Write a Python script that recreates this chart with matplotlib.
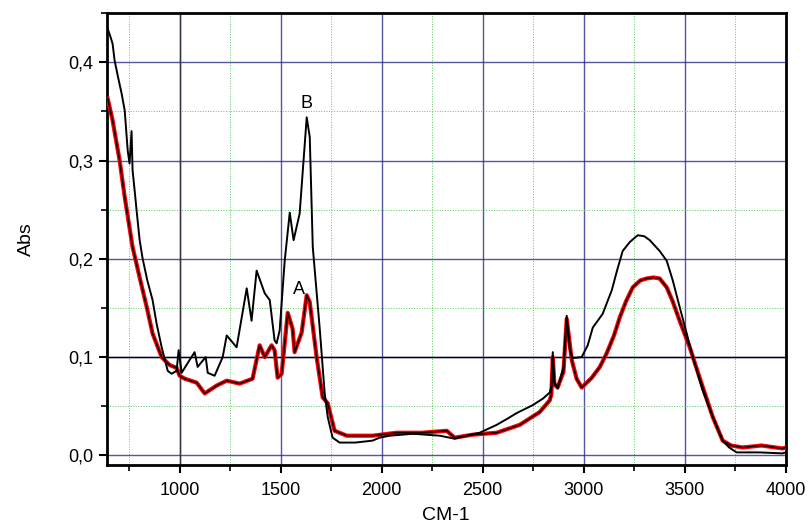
import matplotlib
matplotlib.use("Agg")
import matplotlib.pyplot as plt
from matplotlib.ticker import MultipleLocator, FuncFormatter

plt.rcParams['font.family'] = ['Liberation Sans', 'DejaVu Sans']

# spectrum B (black, upper curve)
wn_b = [644, 656, 668, 678, 695, 713, 728, 743, 752, 762, 767, 777, 787, 802, 817,
        840, 866, 886, 911, 941, 960, 985, 995, 1010, 1040, 1074, 1089, 1129, 1139,
        1173, 1213, 1233, 1282, 1332, 1356, 1381, 1421, 1446, 1470, 1480, 1495,
        1520, 1545, 1564, 1594, 1629, 1644, 1659, 1673, 1693, 1718, 1733, 1757,
        1792, 1870, 1955, 1990, 2040, 2100, 2153, 2220, 2287, 2361, 2420, 2485,
        2569, 2620, 2668, 2747, 2800, 2832, 2840, 2847, 2855, 2871, 2900, 2916,
        2931, 2946, 2990, 3020, 3045, 3094, 3139, 3165, 3193, 3228, 3250, 3268,
        3300, 3327, 3376, 3411, 3441, 3475, 3510, 3540, 3589, 3639, 3688, 3720,
        3757, 3871, 3985, 4000]
abs_b = [0.434, 0.427, 0.419, 0.402, 0.385, 0.368, 0.351, 0.310, 0.297, 0.330,
         0.290, 0.270, 0.249, 0.219, 0.200, 0.178, 0.158, 0.134, 0.110, 0.086,
         0.083, 0.086, 0.107, 0.084, 0.094, 0.105, 0.090, 0.100, 0.084, 0.081,
         0.100, 0.122, 0.110, 0.170, 0.137, 0.188, 0.165, 0.158, 0.117, 0.114,
         0.127, 0.198, 0.247, 0.219, 0.246, 0.344, 0.324, 0.212, 0.178, 0.130,
         0.063, 0.039, 0.018, 0.013, 0.013, 0.015, 0.018, 0.020, 0.021, 0.022,
         0.021, 0.020, 0.017, 0.020, 0.023, 0.031, 0.037, 0.043, 0.051, 0.058,
         0.064, 0.070, 0.105, 0.075, 0.068, 0.090, 0.142, 0.107, 0.099, 0.100,
         0.112, 0.130, 0.144, 0.168, 0.188, 0.208, 0.217, 0.221, 0.224, 0.223,
         0.219, 0.208, 0.198, 0.178, 0.151, 0.124, 0.100, 0.066, 0.039, 0.015,
         0.008, 0.003, 0.003, 0.002, 0.003]

# spectrum A (red, lower curve)
wn_a = [644, 668, 703, 728, 767, 802, 837, 866, 911, 950, 985, 1000, 1025, 1084,
        1124, 1183, 1233, 1297, 1361, 1396, 1421, 1455, 1470, 1485, 1505, 1535,
        1559, 1569, 1604, 1629, 1644, 1678, 1708, 1733, 1767, 1827, 1955, 2074,
        2200, 2322, 2361, 2450, 2569, 2683, 2782, 2832, 2840, 2847, 2855, 2871,
        2900, 2916, 2941, 2965, 2990, 3040, 3080, 3114, 3150, 3178, 3210, 3243,
        3280, 3312, 3345, 3376, 3411, 3440, 3475, 3525, 3574, 3639, 3688, 3730,
        3787, 3880, 3985, 4000]
abs_a = [0.363, 0.341, 0.300, 0.263, 0.212, 0.181, 0.151, 0.124, 0.100, 0.092,
         0.089, 0.081, 0.078, 0.074, 0.063, 0.071, 0.076, 0.073, 0.078, 0.112,
         0.100, 0.112, 0.107, 0.079, 0.083, 0.145, 0.129, 0.105, 0.125, 0.163,
         0.156, 0.100, 0.059, 0.053, 0.025, 0.020, 0.020, 0.023, 0.023, 0.025,
         0.018, 0.021, 0.023, 0.031, 0.044, 0.056, 0.062, 0.100, 0.072, 0.069,
         0.085, 0.139, 0.097, 0.078, 0.069, 0.079, 0.090, 0.104, 0.122, 0.140,
         0.157, 0.171, 0.178, 0.180, 0.181, 0.180, 0.171, 0.157, 0.137, 0.110,
         0.079, 0.039, 0.015, 0.010, 0.008, 0.010, 0.007, 0.008]

fig = plt.figure(figsize=(8.1, 5.28), dpi=100)
ax = fig.add_axes([0.132, 0.119, 0.838, 0.856])

ax.plot(wn_a, abs_a, color='red', linewidth=3.0, zorder=3)
ax.plot(wn_a, abs_a, color='#200000', linewidth=1.2, zorder=4)
ax.plot(wn_b, abs_b, color='black', linewidth=1.4, zorder=5)

ax.text(1630, 0.349, 'B', fontsize=13, ha='center', va='bottom', zorder=6)
ax.text(1590, 0.160, 'A', fontsize=13, ha='center', va='bottom', zorder=6)

ax.set_xlim(640, 4000)
ax.set_ylim(-0.01, 0.45)
ax.xaxis.set_major_locator(MultipleLocator(500))
ax.xaxis.set_minor_locator(MultipleLocator(250))
ax.yaxis.set_major_locator(MultipleLocator(0.1))
ax.yaxis.set_minor_locator(MultipleLocator(0.05))
ax.yaxis.set_major_formatter(FuncFormatter(lambda v, p: f"{v:.1f}".replace('.', ',')))

ax.grid(which='major', color='#2a2a8a', linewidth=1.0, alpha=0.8, zorder=0)
ax.grid(which='minor', color='#55cc55', linewidth=0.7, linestyle=':', zorder=0)
ax.axhline(0.1, color='black', linewidth=1.0, zorder=1)
ax.axvline(1000, color='#333344', linewidth=1.0, zorder=1)
ax.set_axisbelow(True)

for s in ax.spines.values():
    s.set_linewidth(2)
ax.tick_params(which='major', direction='out', length=6, width=1.5, labelsize=13)
ax.tick_params(which='minor', direction='out', length=4, width=1.2)
ax.tick_params(axis='x', pad=6)

ax.set_xlabel('CM-1', fontsize=14, labelpad=6)
ax.set_ylabel('Abs', fontsize=14, labelpad=24)

fig.savefig('out.png', dpi=100)
